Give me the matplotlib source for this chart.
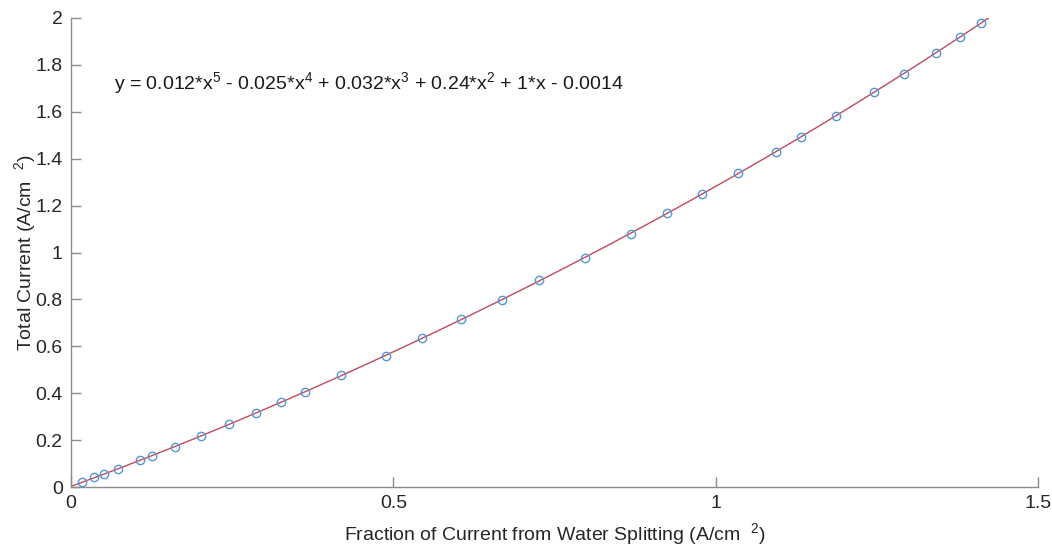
import numpy as np
import matplotlib
matplotlib.use('Agg')
import matplotlib.pyplot as plt

plt.rcParams['font.family'] = ['Liberation Sans', 'DejaVu Sans']
plt.rcParams['mathtext.default'] = 'regular'

water_split = [0.0166, 0.0362, 0.0517, 0.0734, 0.1071, 0.1253, 0.1615, 0.2019,
               0.2453, 0.2862, 0.3256, 0.3634, 0.4182, 0.4887, 0.5450, 0.6056,
               0.6693, 0.7267, 0.7970, 0.8691, 0.9244, 0.9794, 1.0342, 1.0936,
               1.1325, 1.1863, 1.2458, 1.2915, 1.3411, 1.3789, 1.4115]
total_current = [0.020, 0.041, 0.055, 0.077, 0.114, 0.133, 0.172, 0.217,
                 0.267, 0.316, 0.362, 0.407, 0.476, 0.560, 0.634, 0.715,
                 0.799, 0.881, 0.978, 1.080, 1.167, 1.251, 1.338, 1.430,
                 1.494, 1.583, 1.683, 1.762, 1.849, 1.918, 1.980]
x_ticks = [0, 0.5, 1, 1.5]
x_tick_labels = ['0', '0.5', '1', '1.5']
y_ticks = [0, 0.2, 0.4, 0.6, 0.8, 1, 1.2, 1.4, 1.6, 1.8, 2]
y_tick_labels = ['0', '0.2', '0.4', '0.6', '0.8', '1', '1.2', '1.4', '1.6', '1.8', '2']
fit_label = 'y = 0.012*x$^5$ - 0.025*x$^4$ + 0.032*x$^3$ + 0.24*x$^2$ + 1*x - 0.0014'

# 5th order fit through the points (the red curve)
coef = np.polyfit(water_split, total_current, 5)
xf = np.linspace(0, 1.423, 300)
yf = np.polyval(coef, xf)

fig = plt.figure(figsize=(10.52, 5.5), dpi=100)
ax = fig.add_axes([71/1052, 63/550, 967/1052, 469/550])

ax.plot(xf, yf, color='#c24a5c', lw=1.0, zorder=2)
ax.plot(water_split, total_current, 'o', mfc='none', mec='#5596d4', ms=6, mew=1.0, zorder=3)

ax.set_xlim(0, 1.5)
ax.set_ylim(0, 2)
ax.set_xticks(x_ticks)
ax.set_xticklabels(x_tick_labels)
ax.set_yticks(y_ticks)
ax.set_yticklabels(y_tick_labels)

for s in ['top', 'right']:
    ax.spines[s].set_visible(False)
for s in ['left', 'bottom']:
    ax.spines[s].set_color('#8c8c8c')
    ax.spines[s].set_linewidth(1.0)
ax.tick_params(direction='in', length=7, width=1, color='#8c8c8c',
               labelsize=14, labelcolor='#262626', pad=6)

ax.set_xlabel('Fraction of Current from Water Splitting (A/cm  $^2$)',
              fontsize=14, color='#262626', labelpad=6)
ax.set_ylabel('Total Current (A/cm  $^2$)', fontsize=14, color='#262626', labelpad=-2)

ax.text(0.067, 1.723, fit_label, fontsize=14, color='#1a1a1a', va='center', ha='left')

fig.savefig('out.png', dpi=100)
